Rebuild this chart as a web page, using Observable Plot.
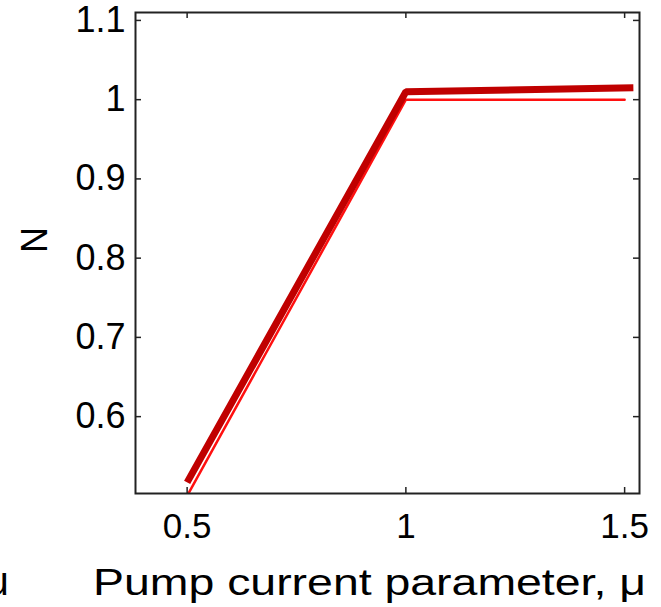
<!DOCTYPE html>
<html>
<head>
<meta charset="utf-8">
<script src="https://cdn.jsdelivr.net/npm/d3@7"></script>
<script src="https://cdn.jsdelivr.net/npm/@observablehq/plot@0.6"></script>
<style>
  html, body { margin: 0; padding: 0; background: #fff; }
  #chart svg { display: block; }
</style>
</head>
<body>
<div id="chart"></div>
<script>
// Data
const mu = [0.5, 1.0, 1.5];                 // pump current parameter
const nIdeal = [0.5, 1.0, 1.0];             // thin bright-red line
const muThick = [0.5, 1.0, 1.52];
const nThick = [0.517, 1.01, 1.015];        // thick dark-red line
const xTicks = [0.5, 1, 1.5];
const yTicks = [0.6, 0.7, 0.8, 0.9, 1.0, 1.1];
const yTickLabels = ["0.6", "0.7", "0.8", "0.9", "1", "1.1"];
const xTickLabels = ["0.5", "1", "1.5"];
const xLabel = "Pump current parameter, \u03bc";
const yLabel = "N";
const clippedLabel = "\u03bc";

const ideal = mu.map((m, i) => ({x: m, y: nIdeal[i]}));
const thick = muThick.map((m, i) => ({x: m, y: nThick[i]}));

const W = 661, H = 607;
const mL = 135, mR = 22, mT = 12, mB = 114;
const innerH = H - mT - mB, innerW = W - mL - mR;
const tick = 6;

const chart = Plot.plot({
  width: W, height: H,
  marginLeft: mL, marginRight: mR, marginTop: mT, marginBottom: mB,
  style: {fontFamily: "'Liberation Sans', Arial, sans-serif", background: "#fff", overflow: "visible"},
  x: {domain: [0.382, 1.534]},
  y: {domain: [0.503, 1.110]},
  marks: [
    Plot.lineY(ideal, {x: "x", y: "y", stroke: "#ff1010", strokeWidth: 2.5, clip: true}),
    Plot.lineY(thick, {x: "x", y: "y", stroke: "#c00000", strokeWidth: 7, strokeLinecap: "butt", strokeLinejoin: "miter", clip: true}),
    // inward ticks
    Plot.tickX(xTicks, {x: d => d, insetTop: innerH - tick, stroke: "#222", strokeWidth: 1.5}),
    Plot.tickX(xTicks, {x: d => d, insetBottom: innerH - tick, stroke: "#222", strokeWidth: 1.5}),
    Plot.tickY(yTicks, {y: d => d, insetRight: innerW - tick, stroke: "#222", strokeWidth: 1.5}),
    Plot.tickY(yTicks, {y: d => d, insetLeft: innerW - tick, stroke: "#222", strokeWidth: 1.5}),
    Plot.frame({stroke: "#222", strokeWidth: 2}),
    Plot.axisX(xTicks, {anchor: "bottom", tickSize: 0, tickPadding: 20, fontSize: 35,
      tickFormat: (d, i) => xTickLabels[i], label: null, fill: "#000"}),
    Plot.axisY(yTicks, {anchor: "left", tickSize: 0, tickPadding: 10, fontSize: 36,
      tickFormat: (d, i) => yTickLabels[i], label: null, fill: "#000"}),
    Plot.text([xLabel], {frameAnchor: "bottom", dx: -18, dy: 101, fontSize: 37, fill: "#000",
      textAnchor: "middle", lineAnchor: "bottom"}),
    Plot.text([yLabel], {frameAnchor: "left", dx: -100, rotate: -90, fontSize: 36, fill: "#000"}),
    Plot.text([clippedLabel], {frameAnchor: "bottom-left", dx: -138, dy: 101, fontSize: 40, fill: "#000",
      textAnchor: "middle", lineAnchor: "bottom"})
  ]
});
document.getElementById("chart").appendChild(chart);
// stretch the x-axis title horizontally, as in the reference
d3.select(chart).selectAll("text").filter(function() { return this.textContent === xLabel; })
  .attr("textLength", 553).attr("lengthAdjust", "spacingAndGlyphs");
</script>
</body>
</html>
